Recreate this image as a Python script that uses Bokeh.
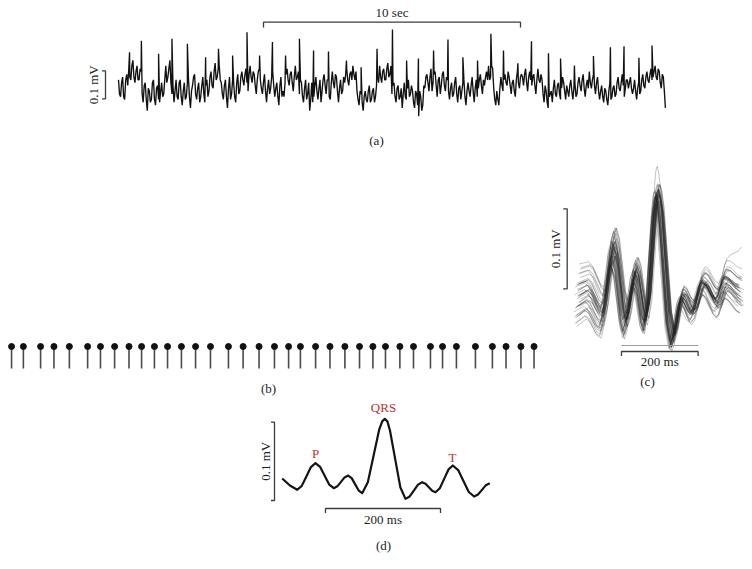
import numpy as np
from math import pi
from bokeh.plotting import figure
from bokeh.layouts import column, row, Spacer
from bokeh.models import Range1d, Label
from bokeh.embed import file_html
from bokeh.resources import INLINE

# ---------------- data ----------------
# (a) raw recording: samples every 0.08 s (mV), plus the in-between samples (t + 0.04 s)
trace_dt = 0.08
trace_mv = [
    0.02, -0.04, 0.03, -0.05, 0.04, 0.06, 0.02, 0.09, 0.01, 0.07,
    0.02, 0.05, -0.06, 0.01, -0.09, -0.02, -0.05, 0.02, -0.07, 0.00,
    -0.06, 0.01, -0.03, 0.07, 0.03, 0.09, -0.03, -0.06, 0.02, -0.05,
    0.02, -0.07, 0.01, -0.04, 0.03, -0.08, 0.00, 0.04, -0.05, 0.01,
    -0.04, 0.03, -0.06, 0.02, -0.02, 0.05, -0.01, 0.08, 0.03, 0.07,
    0.01, -0.05, 0.02, -0.08, 0.03, -0.03, 0.01, -0.06, 0.04, -0.02,
    0.05, 0.00, 0.06, -0.02, 0.07, 0.01, 0.04, -0.03, 0.05, 0.02,
    -0.03, 0.04, -0.06, 0.02, -0.01, 0.05, -0.04, 0.01, -0.07, 0.03,
    -0.02, 0.01, 0.06, 0.00, 0.05, -0.02, 0.07, 0.03, -0.03, 0.01,
    -0.06, 0.02, -0.03, -0.09, 0.01, -0.04, 0.03, -0.05, 0.02, -0.02,
    0.04, -0.03, 0.02, -0.05, 0.05, -0.01, 0.03, -0.06, 0.02, -0.02,
    0.01, 0.06, 0.00, 0.05, 0.07, 0.02, -0.02, -0.07, -0.03, -0.09,
    -0.02, -0.06, 0.00, -0.05, -0.01, -0.04, 0.03, 0.07, 0.01, 0.06,
    0.02, 0.08, 0.04, -0.03, 0.01, -0.06, 0.00, -0.04, -0.08, 0.01,
    -0.05, 0.02, -0.03, -0.02, -0.08, -0.03, -0.11, -0.04, -0.07, -0.01,
    0.04, -0.02, 0.06, 0.01, 0.05, -0.04, 0.03, 0.00, 0.05, -0.02,
    0.02, -0.05, 0.01, -0.03, 0.03, -0.06, 0.00, -0.02, 0.02, -0.07,
    0.01, -0.04, 0.03, -0.06, 0.02, -0.01, 0.04, -0.03, 0.00, 0.05,
    0.07, 0.03, 0.06, -0.05, -0.02, -0.07, 0.03, -0.02, 0.04, 0.00,
    0.03, -0.03, 0.02, -0.04, 0.05, -0.01, 0.04, 0.00, 0.06, -0.02,
    0.05, 0.00, 0.04, -0.03, 0.06, 0.01, 0.02, -0.06, -0.02, -0.08,
    -0.03, -0.06, 0.02, -0.04, 0.01, -0.05, 0.03, -0.02, 0.00, -0.04,
    0.02, -0.05, 0.01, -0.03, 0.03, -0.02, 0.04, -0.04, 0.02, 0.05,
    -0.01, 0.04, -0.03, 0.03, -0.05, 0.00, -0.06, -0.02, -0.07, 0.01,
    -0.04, 0.00, -0.03, 0.03, -0.02, 0.04, -0.04, 0.02, -0.01, 0.03,
    -0.03, 0.02, -0.05, 0.01, -0.02, 0.04, -0.01, 0.05, 0.01, 0.06,
    0.03, 0.07, 0.02, 0.05, -0.01, 0.03, -0.08,
]
trace_mid_mv = [
    -0.03, 0.01, -0.04, 0.02, 0.00, 0.03, 0.07, 0.03, 0.05, 0.02,
    0.06, -0.03, 0.00, -0.05, -0.01, -0.06, 0.01, -0.05, -0.01, -0.05,
    -0.02, -0.04, 0.02, 0.01, 0.06, 0.01, 0.00, -0.02, -0.04, 0.01,
    -0.04, -0.02, -0.05, 0.01, -0.04, -0.02, 0.03, -0.03, -0.01, -0.06,
    0.00, -0.03, 0.00, -0.04, 0.03, 0.00, 0.05, 0.02, 0.06, 0.02,
    -0.03, 0.00, -0.04, -0.01, -0.05, 0.02, -0.04, 0.01, -0.03, 0.03,
    0.02, 0.04, 0.01, 0.04, 0.03, 0.05, 0.00, 0.02, 0.06, -0.01,
    0.01, -0.02, -0.01, -0.03, 0.03, 0.00, -0.01, -0.04, 0.00, -0.04,
    -0.04, 0.04, 0.02, 0.04, 0.01, 0.03, 0.02, 0.05, 0.02, -0.04,
    -0.01, -0.05, 0.01, -0.05, -0.06, 0.00, -0.02, -0.01, -0.06, 0.02,
    0.00, 0.02, -0.04, 0.01, 0.01, 0.04, -0.02, -0.01, -0.03, 0.03,
    0.04, 0.02, 0.04, 0.02, 0.04, 0.05, -0.05, -0.02, -0.06, -0.04,
    -0.05, -0.02, -0.06, -0.02, -0.06, 0.00, 0.01, 0.03, 0.05, 0.02,
    0.06, 0.03, 0.07, 0.00, -0.04, -0.01, -0.05, -0.01, -0.03, -0.04,
    -0.01, -0.04, 0.00, -0.06, -0.02, -0.07, -0.02, -0.09, 0.00, 0.03,
    0.01, 0.03, -0.02, 0.04, 0.00, 0.02, -0.03, 0.04, 0.00, 0.03,
    -0.02, -0.01, -0.04, 0.01, -0.03, -0.01, -0.05, 0.01, -0.04, -0.02,
    -0.02, 0.00, -0.02, -0.01, -0.04, 0.02, 0.00, 0.02, 0.03, 0.02,
    0.02, 0.07, -0.01, -0.07, -0.05, -0.01, 0.00, 0.02, 0.01, 0.05,
    0.00, 0.01, -0.02, 0.02, 0.01, 0.03, 0.03, 0.04, 0.01, 0.03,
    0.02, 0.03, 0.00, 0.02, 0.02, 0.04, -0.03, 0.00, -0.06, -0.04,
    -0.02, -0.01, -0.03, 0.00, -0.03, -0.01, 0.01, -0.05, -0.02, 0.00,
    -0.02, -0.01, -0.04, 0.01, 0.00, 0.02, -0.01, 0.00, -0.01, 0.01,
    0.02, 0.00, 0.01, -0.02, -0.02, -0.04, -0.01, -0.05, -0.02, -0.05,
    -0.01, -0.04, 0.01, -0.01, 0.01, 0.00, -0.01, 0.02, 0.01, -0.01,
    -0.01, -0.02, -0.01, -0.03, 0.02, 0.00, 0.03, 0.02, 0.04, 0.02,
    0.05, 0.03, 0.06, 0.01, 0.04, -0.02,
]
# detected beats (s) and their R-peak amplitude (mV)
beat_times = [0.43, 0.89, 1.56, 2.08, 2.68, 3.39, 3.89, 4.44, 5.00, 5.49,
              5.99, 6.50, 7.04, 7.59, 8.17, 8.87, 9.44, 10.06, 10.66, 11.21,
              11.67, 12.26, 12.82, 13.40, 13.97, 14.49, 14.98, 15.54, 16.07, 16.73,
              17.20, 17.74, 18.48, 19.14, 19.67, 20.25, 20.76]
beat_peaks = [0.119, 0.160, 0.113, 0.167, 0.149, 0.101, 0.131, 0.107, 0.190, 0.107,
              0.155, 0.107, 0.167, 0.125, 0.121, 0.089, 0.065, 0.131, 0.200, 0.089,
              0.096, 0.125, 0.164, 0.101, 0.089, 0.185, 0.125, 0.079, 0.158, 0.115,
              0.096, 0.071, 0.105, 0.137, 0.140, 0.099, 0.143]

# (c) beat template (ms, mV) and per-beat variation
c_time = [-208, -199.7, -191.3, -183, -173.2, -163.3, -153.5, -143.6, -136.2, -128.8,
          -121.4, -114, -106.2, -98.4, -90.6, -82.8, -76.3, -69.75, -63.2, -56.7,
          -50.2, -43.6, -37.1, -30.5, -22.9, -15.25, -7.6, -3.8, 0, 3.8,
          9.8, 19.6, 29.4, 39.2, 45.7, 52.25, 58.8, 65.3, 71.8, 78.35,
          84.9, 91.4, 98.8, 106.15, 113.5, 120.9, 129.85, 138.8, 147.75, 156.7,
          162.1, 167.5, 172.9, 178.3, 188.1, 197.9, 207.7, 217.5]
c_mv = [0.006, 0.0082, 0.0103, 0.0125, 0.0083, -0.0018, -0.0118, -0.016, -0.0027, 0.026,
        0.054, 0.066, 0.053, 0.022, -0.0104, -0.025, -0.0162, 0.005, 0.0262, 0.035,
        0.0262, 0.005, -0.0162, -0.025, -0.0013, 0.055, 0.109, 0.127, 0.132, 0.126,
        0.106, 0.042, -0.0226, -0.05, -0.0421, -0.023, -0.0039, 0.004, 0.0011, -0.006,
        -0.0131, -0.016, -0.0106, 0.0025, 0.0156, 0.021, 0.0173, 0.0085, -0.0004, -0.004,
        -0.0003, 0.0085, 0.0173, 0.021, 0.0188, 0.0135, 0.0082, 0.006]
c_scale = [1.00, 0.96, 1.03, 0.94, 1.05, 0.98, 1.02, 0.95, 1.04, 1.00,
           0.97, 1.03, 0.92, 1.06, 0.99, 0.97, 1.02, 0.94, 1.05, 1.00,
           1.24, 0.98, 1.01, 0.95, 1.04, 0.93, 1.05, 1.00, 0.96, 1.03,
           0.98, 1.02, 0.90, 1.07, 1.00, 0.97, 1.02, 0.94, 1.04, 1.00]
c_offset = [0.000, 0.006, -0.004, 0.010, -0.008, 0.003, -0.012, 0.007, -0.002, 0.012,
            -0.007, 0.002, 0.009, -0.010, 0.005, -0.003, 0.011, -0.006, 0.001, -0.013,
            0.004, 0.008, -0.004, 0.014, -0.009, 0.002, -0.001, 0.006, -0.011, 0.010,
            -0.005, 0.001, 0.005, -0.007, 0.013, -0.002, 0.004, -0.014, 0.007, -0.001]
c_shift = [0, 4, -3, 6, -5, 2, -7, 5, -2, 8, -4, 1, 7, -6, 3, -1, 5, -8, 2, -3,
           0, 6, -5, 4, -2, 9, -6, 3, -4, 1, 5, -7, 2, -1, 7, -3, 4, -9, 1, -2]
c_tilt = [0.0, 0.015, -0.018, 0.009, 0.021, -0.012, 0.024, -0.009, 0.012, -0.024,
          0.018, 0.003, -0.015, 0.006, 0.006, -0.018, 0.012, 0.021, -0.006, 0.027,
          0.0, -0.021, 0.012, -0.027, 0.018, 0.006, -0.012, 0.015, 0.024, -0.018,
          0.009, 0.0, 0.018, -0.015, -0.021, 0.012, 0.030, 0.006, -0.009, 0.003]
c_rise = [0.0] * 14 + [0.05] + [0.0] * 25   # late baseline rise of one beat (mV)

# (d) averaged beat (ms, mV)
d_time = [-178.4, -165, -152.3, -144.4, -136.4, -128.5, -120.5, -112.6, -104.6, -96.7,
          -88.7, -82.5, -76.2, -70, -63.7, -57.6, -51.5, -45.4, -39.3, -29.5,
          -19.65, -9.8, -4.5, 0, 4.5, 9, 18, 27, 36, 43.25,
          50.5, 57.75, 65, 70.8, 76.6, 82.4, 88.2, 95.7, 103.25, 110.8,
          118.3, 127.55, 136.8, 146.05, 155.3, 162.1, 169, 175.8, 182.6]
d_mv = [0.0, -0.009, -0.0144, -0.0094, 0.0026, 0.0146, 0.0196, 0.0149, 0.0036, -0.0077,
        -0.0124, -0.01, -0.0043, 0.0014, 0.0038, 0.0005, -0.0075, -0.0154, -0.0187, -0.0048,
        0.0288, 0.0623, 0.073, 0.0762, 0.073, 0.0613, 0.0251, -0.0111, -0.026, -0.0229,
        -0.0154, -0.0078, -0.0047, -0.0066, -0.0111, -0.0156, -0.0175, -0.0125, -0.0005, 0.0116,
        0.0166, 0.0108, -0.0032, -0.0172, -0.023, -0.0205, -0.0145, -0.0085, -0.006]
d_labels = ["P", "QRS", "T"]

# ---------------- style / layout ----------------
FONT = "Liberation Serif"
FS = "13px"
INK = "#3c3c3c"
TXT = "#1e1e1e"
RED = "#c0312b"


def panel(w, h, left, top, ox, kx, oy, ky):
    p = figure(width=w, height=h, output_backend="svg", toolbar_location=None,
               x_range=Range1d((left - ox) / kx, (left + w - ox) / kx),
               y_range=Range1d((oy - top - h) / ky, (oy - top) / ky),
               x_axis_type=None, y_axis_type=None, min_border=0,
               outline_line_color=None, background_fill_color="white",
               border_fill_color="white")
    p.grid.visible = False
    return p, (lambda px: (px - ox) / kx), (lambda py: (oy - py) / ky)


def txt(p, x, y, s, color=TXT, angle=0.0, size=FS):
    p.add_layout(Label(x=x, y=y, text=s, text_font=FONT, text_font_size=size,
                       text_color=color, text_align="center", text_baseline="middle",
                       angle=angle))


def hbracket(p, x0, x1, y, dy, color=INK):
    p.line([x0, x0, x1, x1], [y - dy, y, y, y - dy], line_color=color, line_width=1.3)


def vbracket(p, x, y0, y1, dx, color=INK):
    p.line([x - dx, x, x, x - dx], [y0, y0, y1, y1], line_color=color, line_width=1.3)


# ---- (a) ----
fa, XA, YA = panel(750, 150, 0, 0, 118, 25.7, 85, 280)
n = len(trace_mv)
t_all = np.concatenate([np.arange(n) * trace_dt,
                        np.arange(len(trace_mid_mv)) * trace_dt + trace_dt / 2,
                        np.array(beat_times)])
v_all = np.concatenate([np.array(trace_mv), np.array(trace_mid_mv), np.array(beat_peaks)])
order = np.argsort(t_all, kind="stable")
fa.line(t_all[order], v_all[order], line_color="#111111", line_width=1.35)
xb = XA(263)
hbracket(fa, xb, xb + 10, YA(21.7), 5.3 / 280)
txt(fa, xb + 5, YA(12), "10 sec")
yb = YA(98.3)
vbracket(fa, XA(105), yb, yb + 0.1, 3.5 / 25.7)
txt(fa, XA(93), yb + 0.05, "0.1 mV", angle=pi / 2)
txt(fa, XA(376), YA(140), "(a)")

# ---- (b) ----
fb, XB, YB = panel(545, 75, 0, 325, 0, 25.7, 368, 22)
fb.segment(x0=beat_times, y0=0, x1=beat_times, y1=1, line_color="#4a4a4a", line_width=1.6)
fb.scatter(beat_times, [1] * len(beat_times), size=6, fill_color="#111111", line_color="#111111")
txt(fb, XB(268), YB(388), "(b)")

# ---- (c) ----
fc, XC, YC = panel(205, 250, 545, 150, 656.7, 0.383, 300, 800)
ct = np.array(c_time)
cv = np.array(c_mv)
late = np.clip((ct - 150.0) / (ct[-1] - 150.0), 0, 1)
xs, ys = [], []
for s, o, sh, tl, rs in zip(c_scale, c_offset, c_shift, c_tilt, c_rise):
    xs.append(list(ct + sh))
    ys.append(list(cv * s + o + tl * ct / ct[-1] + rs * late))
fc.multi_line(xs, ys, line_color="#262626", line_alpha=0.3, line_width=0.9)
yb = YC(288.3)
vbracket(fc, XC(566.7), yb, yb + 0.1, 4 / 0.383)
txt(fc, XC(555), yb + 0.05, "0.1 mV", angle=pi / 2)
xb = XC(621)
fc.line([xb, xb + 200], [YC(345), YC(345)], line_color="#9a9a9a", line_width=1.0)
hbracket(fc, xb, xb + 200, YC(351), 4.5 / 800)
txt(fc, xb + 100, YC(361), "200 ms")
txt(fc, XC(647), YC(381), "(c)")

# ---- (d) ----
fd, XD, YD = panel(270, 165, 250, 400, 384.3, 0.575, 478, 783)
fd.line(d_time, d_mv, line_color="#141414", line_width=2.2, line_join="round")
yb = YD(500)
vbracket(fd, XD(274), yb, yb + 0.1, 3.5 / 0.575)
txt(fd, XD(265), yb + 0.05, "0.1 mV", angle=pi / 2)
xb = XD(325)
hbracket(fd, xb, xb + 200, YD(508), 4.5 / 783)
txt(fd, xb + 100, YD(519), "200 ms")
txt(fd, XD(383), YD(545), "(d)")
for lab, px, py in zip(d_labels, [315, 383, 452], [453, 407, 457]):
    txt(fd, XD(px), YD(py), lab, color=RED)

layout = column(
    fa,
    row(column(Spacer(width=545, height=175), fb, spacing=0), fc, spacing=0),
    row(Spacer(width=250, height=165), fd, spacing=0),
    spacing=0,
)

open("out.html", "w").write(file_html(layout, INLINE))
